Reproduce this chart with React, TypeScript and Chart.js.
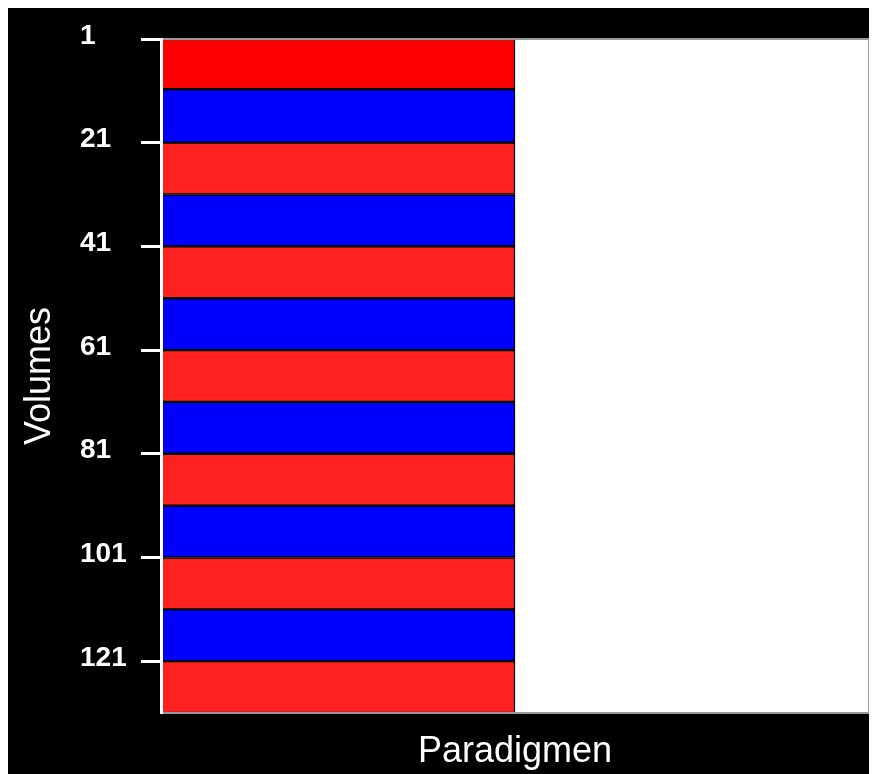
import React, { useEffect, useRef } from "react";
import { Chart, registerables } from "chart.js";

Chart.register(...registerables);

// ---- data ----
const xCategories = ["Paradigma", ""];
const bandStarts = [1, 10.7, 21, 31, 41, 51, 61, 71, 81, 91, 101, 111, 121];
const bandEnds = [10.7, 21, 31, 41, 51, 61, 71, 81, 91, 101, 111, 121, 131];
const bandColors = [
  "#FF0000", "#0000FF", "#FF2020", "#0000FF", "#FF2020", "#0000FF", "#FF2020",
  "#0000FF", "#FF2020", "#0000FF", "#FF2020", "#0000FF", "#FF2020",
];
const yTickValues = [1, 21, 41, 61, 81, 101, 121];
const yMin = 1;
const yMax = 131;
const xTitle = "Paradigmen";
const yTitle = "Volumes";

const FONT = "'Liberation Sans', Arial, Helvetica, sans-serif";

export default function App() {
  const ref = useRef<HTMLCanvasElement | null>(null);

  useEffect(() => {
    document.documentElement.style.overflow = "hidden";
    document.body.style.overflow = "hidden";
    const canvas = ref.current;
    if (!canvas) return;

    const datasets = bandStarts.map((s, i) => ({
      label: "Band " + (i + 1),
      data: [[s, bandEnds[i]], null] as any,
      backgroundColor: bandColors[i],
      borderColor: "#000000",
      borderWidth: 1.5,
      borderSkipped: false as any,
      barPercentage: 1,
      categoryPercentage: 1,
    }));

    const bgPlugin = {
      id: "bg",
      beforeDraw(chart: any) {
        const { ctx, chartArea } = chart;
        ctx.save();
        ctx.fillStyle = "#000000";
        ctx.fillRect(0, 0, chart.width, chart.height);
        ctx.fillStyle = "#FFFFFF";
        ctx.fillRect(
          chartArea.left,
          chartArea.top,
          chartArea.right - chartArea.left,
          chartArea.bottom - chartArea.top
        );
        ctx.restore();
      },
      afterDatasetsDraw(chart: any) {
        const { ctx, chartArea } = chart;
        ctx.save();
        ctx.strokeStyle = "#999999";
        ctx.lineWidth = 2;
        ctx.strokeRect(
          chartArea.left,
          chartArea.top,
          chartArea.right - chartArea.left,
          chartArea.bottom - chartArea.top
        );
        ctx.restore();
      },
    };

    const chart = new Chart(canvas, {
      type: "bar",
      data: { labels: xCategories, datasets },
      plugins: [bgPlugin],
      options: {
        animation: false,
        responsive: false,
        devicePixelRatio: 1,
        layout: { padding: { left: 72, top: 31, right: 8, bottom: 0 } },
        plugins: {
          legend: { display: false },
          tooltip: { enabled: false },
        },
        scales: {
          x: {
            stacked: true,
            offset: true,
            grid: { display: false },
            border: { display: false },
            ticks: { display: false },
            title: {
              display: true,
              text: xTitle,
              color: "#FFFFFF",
              font: { family: FONT, size: 36, weight: "normal" },
              padding: 0,
            },
            afterFit(scale: any) {
              scale.height = 61;
            },
          },
          y: {
            type: "linear",
            reverse: true,
            min: yMin,
            max: yMax,
            stacked: false,
            afterBuildTicks(scale: any) {
              scale.ticks = yTickValues.map((v) => ({ value: v }));
            },
            afterFit(scale: any) {
              scale.width = 81;
            },
            grid: {
              display: true,
              drawOnChartArea: false,
              drawTicks: true,
              tickLength: 20,
              tickColor: "#FFFFFF",
              tickWidth: 3,
              color: "#FFFFFF",
              z: 1,
            },
            border: { display: true, color: "#FFFFFF", width: 3, z: 1 },
            ticks: {
              autoSkip: false,
              crossAlign: "far",
              padding: 0,
              labelOffset: -3,
              color: "#FFFFFF",
              font: { family: FONT, size: 28, weight: "bold" },
              callback: (v: any) => String(v),
            },
            title: {
              display: true,
              text: yTitle,
              color: "#FFFFFF",
              font: { family: FONT, size: 36, weight: "normal" },
              padding: { top: -61.6, bottom: 0 },
            },
          },
        },
      } as any,
    });

    return () => chart.destroy();
  }, []);

  return (
    <canvas
      ref={ref}
      width={869}
      height={766}
      style={{ display: "block", width: 869, height: 766 }}
    />
  );
}
